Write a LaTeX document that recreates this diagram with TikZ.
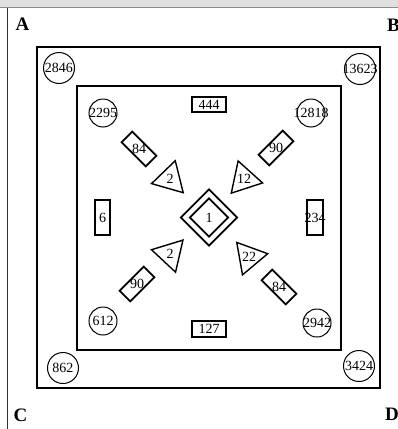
\documentclass[tikz,border=0pt]{standalone}
\usepackage{fontspec}
\setmainfont{Liberation Serif}
\usetikzlibrary{shapes.geometric}
\tikzset{
  lbl/.style={font=\fontsize{19}{19}\selectfont\bfseries, inner sep=0pt},
  num/.style={font=\fontsize{14}{14}\selectfont, inner sep=0pt},
  frame/.style={draw, line width=1.6pt},
  bigcirc/.style={circle, draw, line width=1pt, minimum size=31pt, inner sep=0pt, num},
  smallcirc/.style={circle, draw, line width=1pt, minimum size=28pt, inner sep=0pt, num},
  tbox/.style={rectangle, draw, line width=1.4pt, inner sep=0pt, num},
  rbox/.style={rectangle, draw, line width=1.8pt, minimum width=34pt, minimum height=15pt, inner sep=0pt},
  tri/.style={regular polygon, regular polygon sides=3, draw, line width=1.4pt, minimum size=38pt, inner sep=0pt},
  dia/.style={diamond, draw, line width=1.8pt, aspect=1, inner sep=0pt},
}
\begin{document}
\begin{tikzpicture}[x=1pt,y=-1pt]
\useasboundingbox (0,0) rectangle (398,429);
% window-like border
\fill[black!12] (0,0) rectangle (398,7);
\draw[black!45, line width=1pt] (0,7.5) -- (398,7.5);
\draw[black!80, line width=0.8pt] (7.5,8) -- (7.5,429);
% corner labels
\node[lbl] (A) at (22.5,24.5) {A};
\node[lbl, anchor=west] (B) at (387,25.5) {B};
\node[lbl] (C) at (20.5,415) {C};
\node[lbl, anchor=west] (D) at (385,414) {D};
% squares
\draw[frame] (37,47) rectangle (380,388);
\draw[frame] (77,86) rectangle (341,350);
% circles
\node[bigcirc] (c2846) at (59,68) {\makebox[0pt]{2846}};
\node[bigcirc] (c13623) at (360,69) {\makebox[0pt]{13623}};
\node[bigcirc] (c862) at (63,368) {\makebox[0pt]{862}};
\node[bigcirc] (c3424) at (359,366) {\makebox[0pt]{3424}};
\node[smallcirc] (c2295) at (103,113) {\makebox[0pt]{2295}};
\node[smallcirc] (c12818) at (311,113) {\makebox[0pt]{12818}};
\node[smallcirc] (c612) at (103,321) {\makebox[0pt]{612}};
\node[smallcirc] (c2942) at (317,323) {\makebox[0pt]{2942}};
% straight boxes
\node[tbox, minimum width=34pt, minimum height=15pt] (b444) at (209,104.5) {\makebox[0pt]{444}};
\node[tbox, minimum width=34pt, minimum height=16pt] (b127) at (209,329) {\makebox[0pt]{127}};
\node[tbox, minimum width=15pt, minimum height=35pt] (b6) at (102.5,217.5) {\makebox[0pt]{6}};
\node[tbox, minimum width=16pt, minimum height=35pt] (b234) at (315,217.5) {\makebox[0pt]{234}};
% rotated boxes
\node[rbox, rotate=-45] (r84a) at (139,149) {};
\node[num] (t84a) at (r84a.center) {84};
\node[rbox, rotate=45] (r90a) at (276,148) {};
\node[num] (t90a) at (r90a.center) {90};
\node[rbox, rotate=45] (r90b) at (137,284) {};
\node[num] (t90b) at (r90b.center) {90};
\node[rbox, rotate=-45] (r84b) at (279,287) {};
\node[num] (t84b) at (r84b.center) {84};
% triangles
\node[tri, shape border rotate=-16] (tUL) at (170,179) {};
\node[num] (ttUL) at (tUL.center) {2};
\node[tri, shape border rotate=18] (tUR) at (244,179) {};
\node[num] (ttUR) at (tUR.center) {12};
\node[tri, shape border rotate=-43] (tLL) at (170,254) {};
\node[num] (ttLL) at (tLL.center) {2};
\node[tri, shape border rotate=40] (tLR) at (249,257) {};
\node[num] (ttLR) at (tLR.center) {22};
% center double diamond
\node[dia, minimum width=57pt, minimum height=57pt] (dOut) at (209,217.5) {};
\node[dia, minimum width=39pt, minimum height=39pt, num] (dIn) at (209,217.5) {\makebox[0pt]{1}};
\end{tikzpicture}
\end{document}
